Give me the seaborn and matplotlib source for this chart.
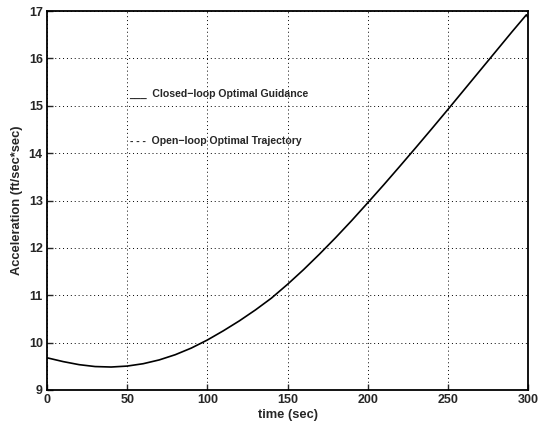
import matplotlib
matplotlib.use("Agg")
import matplotlib.pyplot as plt
import seaborn as sns
import pandas as pd

time_s = [0, 10, 20, 30, 40, 50, 60, 70, 80, 90, 100, 110, 120, 130, 140, 150,
          160, 170, 180, 190, 200, 210, 220, 230, 240, 250, 260, 270, 280, 290,
          296, 299, 300]
accel = [9.68, 9.60, 9.535, 9.495, 9.485, 9.505, 9.555, 9.635, 9.745, 9.885,
         10.055, 10.25, 10.46, 10.69, 10.94, 11.23, 11.54, 11.87, 12.215,
         12.575, 12.95, 13.33, 13.72, 14.115, 14.515, 14.92, 15.33, 15.74,
         16.15, 16.56, 16.80, 16.92, 16.86]
annotations = ["___  Closed\u2212loop Optimal Guidance",
               "- - -  Open\u2212loop Optimal Trajectory"]
x_ticks = [0, 50, 100, 150, 200, 250, 300]
y_ticks = [9, 10, 11, 12, 13, 14, 15, 16, 17]

sns.set_style("ticks")
plt.rcParams['font.family'] = ['Liberation Sans', 'DejaVu Sans']
plt.rcParams['font.weight'] = 'bold'

df = pd.DataFrame({"time": time_s, "acc": accel})

fig = plt.figure(figsize=(5.41, 4.25), dpi=100)
ax = fig.add_axes([47/541, 1-390/425, (528-47)/541, (390-11)/425])

sns.lineplot(data=df, x="time", y="acc", color="black", linewidth=1.2, ax=ax)

ax.set_xlim(0, 300)
ax.set_ylim(9, 17)
ax.set_xticks(x_ticks)
ax.set_yticks(y_ticks)
ax.grid(True, linestyle=(0, (1, 3)), color="black", linewidth=0.7)
ax.tick_params(direction="in", length=4, width=1, labelsize=9, pad=3)
for lab in ax.get_xticklabels() + ax.get_yticklabels():
    lab.set_fontweight("bold")
for s in ax.spines.values():
    s.set_linewidth(1.3)
    s.set_color("black")
ax.set_xlabel("time (sec)", fontsize=9.3, fontweight="bold", labelpad=2)
ax.set_ylabel("Acceleration (ft/sec*sec)", fontsize=9.3, fontweight="bold", labelpad=4)

ax.text(51.5, 15.18, annotations[0], fontsize=7.6, fontweight="bold",
        ha="left", va="baseline")
ax.text(51.5, 14.19, annotations[1], fontsize=7.6, fontweight="bold",
        ha="left", va="baseline")

fig.savefig("out.png", dpi=100)
